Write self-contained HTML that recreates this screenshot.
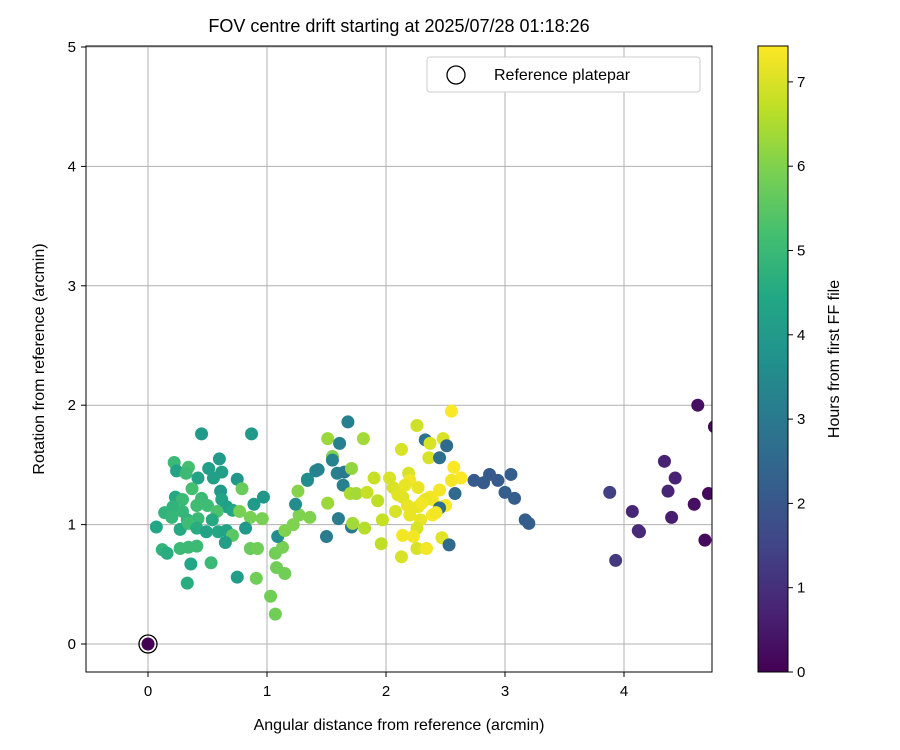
<!DOCTYPE html>
<html><head><meta charset="utf-8"><style>
body{margin:0;background:#fff;}
svg{display:block;font-family:"Liberation Sans","DejaVu Sans",sans-serif;}
</style></head><body>
<svg id="chart" width="900" height="750" xmlns="http://www.w3.org/2000/svg">
<defs>
<linearGradient id="vir" x1="0" y1="1" x2="0" y2="0">
<stop offset="0" stop-color="#440154"/><stop offset="0.1" stop-color="#482475"/><stop offset="0.2" stop-color="#414487"/><stop offset="0.3" stop-color="#355f8d"/><stop offset="0.4" stop-color="#2a788e"/><stop offset="0.5" stop-color="#21918c"/><stop offset="0.6" stop-color="#22a884"/><stop offset="0.7" stop-color="#44bf70"/><stop offset="0.8" stop-color="#7ad151"/><stop offset="0.9" stop-color="#bddf26"/><stop offset="1" stop-color="#fde725"/>
</linearGradient>
<clipPath id="plotclip"><rect x="86" y="46" width="626" height="626"/></clipPath>
</defs>
<text x="399" y="32" font-size="18" text-anchor="middle">FOV centre drift starting at 2025/07/28 01:18:26</text>
<g id="grid"></g>
<g id="points" clip-path="url(#plotclip)"></g>
<rect x="86" y="46" width="626" height="626" fill="none" stroke="#000" stroke-width="1"/>
<g id="ticks"></g>
<text x="399" y="730" font-size="16" text-anchor="middle">Angular distance from reference (arcmin)</text>
<text transform="translate(44,359) rotate(-90)" font-size="16" text-anchor="middle">Rotation from reference (arcmin)</text>
<g>
<rect x="427" y="57" width="273" height="35" rx="3" fill="#fff" stroke="#ccc"/>
<circle cx="456" cy="75" r="9" fill="none" stroke="#000" stroke-width="1.3"/>
<text x="494" y="80" font-size="16">Reference platepar</text>
</g>
<rect x="758" y="46" width="30" height="626" fill="url(#vir)" stroke="#000" stroke-width="1"/>
<g id="cbticks"></g>
<text transform="translate(839,359) rotate(-90)" font-size="16" text-anchor="middle">Hours from first FF file</text>
</svg>
<script>
const xTicks=[0,1,2,3,4];
const yTicks=[0,1,2,3,4,5];
const cTicks=[0,1,2,3,4,5,6,7];
const xs=[0,3.88,3.93,4.07,4.12,4.13,4.34,4.37,4.40,4.43,4.59,4.62,4.68,4.71,4.76,
2.74,2.82,2.87,2.94,3.0,3.05,3.08,3.17,3.20,
0.45,0.87,0.22,0.24,0.34,0.32,0.42,0.51,0.60,0.62,0.55,0.75,0.79,0.37,0.61,0.23,0.29,0.45,0.62,0.97,0.89,0.41,0.50,0.21,0.66,0.14,0.29,0.58,0.71,0.77,0.86,0.96,0.20,0.33,0.42,0.54,0.07,0.27,0.34,0.41,0.49,0.59,0.66,0.71,0.82,0.65,0.12,0.16,0.27,0.34,0.41,0.86,0.92,0.36,0.53,0.75,0.91,0.33,1.03,1.07,1.07,1.13,1.08,1.15,1.09,1.15,1.22,1.27,1.36,1.26,1.24,1.34,1.41,
1.68,1.51,1.61,1.81,1.55,1.55,1.43,1.34,1.59,1.65,1.71,1.64,1.70,1.75,1.51,1.84,1.90,1.93,1.60,1.71,1.72,1.82,1.97,1.50,1.96,2.13,2.13,2.14,2.03,2.08,
2.55,2.26,2.33,2.37,2.48,2.51,2.36,2.45,2.57,2.63,2.55,2.19,2.20,2.27,2.06,2.14,2.37,2.45,2.58,2.39,2.50,2.18,2.27,2.33,2.45,2.20,2.39,2.29,2.26,2.23,2.47,2.53,2.26,2.34,2.10,2.16,2.30,2.42];
const ys=[0,1.27,0.70,1.11,0.95,0.94,1.53,1.28,1.06,1.39,1.17,2.00,0.87,1.26,1.82,
1.37,1.35,1.42,1.37,1.27,1.42,1.22,1.04,1.01,
1.76,1.76,1.52,1.45,1.48,1.43,1.39,1.47,1.55,1.44,1.39,1.38,1.30,1.30,1.28,1.23,1.21,1.22,1.21,1.23,1.17,1.16,1.16,1.15,1.15,1.10,1.11,1.11,1.12,1.11,1.06,1.05,1.06,1.04,1.05,1.04,0.98,0.96,1.01,0.97,0.94,0.94,0.95,0.91,0.97,0.85,0.79,0.76,0.80,0.81,0.82,0.80,0.80,0.67,0.68,0.56,0.55,0.51,0.40,0.25,0.76,0.81,0.64,0.59,0.90,0.95,1.00,1.08,1.06,1.28,1.17,1.37,1.45,
1.86,1.72,1.68,1.72,1.57,1.54,1.46,1.38,1.43,1.44,1.47,1.33,1.26,1.26,1.18,1.27,1.39,1.20,1.05,0.98,1.01,0.97,1.04,0.90,0.84,1.63,0.73,0.91,1.39,1.11,
1.95,1.83,1.71,1.68,1.72,1.66,1.56,1.56,1.48,1.39,1.37,1.43,1.37,1.31,1.31,1.23,1.23,1.29,1.26,1.21,1.16,1.16,1.15,1.21,1.14,1.08,1.08,1.04,0.97,0.90,0.89,0.83,0.80,0.80,1.25,1.33,1.18,1.10];
const hours=[0,1.4,1.2,0.8,0.9,0.9,0.7,0.8,0.6,0.7,0.3,0.3,0.2,0.2,0.2,
2.1,2.1,2.1,2.1,2.2,2.2,2.2,2.2,2.2,
4.0,4.0,5.0,4.3,5.2,5.0,4.3,4.1,4.0,4.2,4.2,3.9,5.7,5.2,4.0,4.5,5.0,5.0,4.3,3.9,4.0,5.1,5.1,4.8,4.2,4.8,4.9,5.3,4.4,5.9,5.9,5.9,4.9,4.8,5.0,4.5,4.4,4.5,5.1,4.6,4.3,4.4,4.3,5.5,4.0,4.2,4.8,4.6,5.0,5.0,5.0,5.7,5.8,4.4,5.0,4.1,5.8,4.6,5.8,5.8,5.8,5.9,5.8,5.8,3.6,6.0,6.0,6.0,6.0,6.1,3.6,3.5,3.3,
3.2,6.3,3.2,6.4,6.0,3.3,3.3,3.6,3.2,3.0,6.2,3.2,6.5,6.4,6.3,6.8,6.8,6.7,3.1,3.0,6.4,6.6,6.8,3.1,6.7,7.0,7.0,7.3,7.0,7.0,
7.4,6.9,2.8,7.0,7.0,2.6,7.0,2.7,7.4,7.4,7.3,7.0,7.3,7.2,7.0,7.1,7.3,7.3,2.6,7.3,7.4,7.2,7.2,7.2,2.7,7.2,7.4,7.2,7.0,7.3,7.1,2.6,7.0,7.3,7.1,7.2,7.3,7.3];
const HMAX=7.43;
function X(v){return 148+v*119;}
function Y(v){return 644-v*119.4;}
function C(h){return 672-h*84.3;}
const stops=[[68,1,84],[72,36,117],[65,68,135],[53,95,141],[42,120,142],[33,145,140],[34,168,132],[68,191,112],[122,209,81],[189,223,38],[253,231,37]];
function vir(h){let t=Math.max(0,Math.min(1,h/HMAX))*10;let i=Math.min(9,Math.floor(t));let f=t-i;const a=stops[i],b=stops[i+1];
return 'rgb('+[0,1,2].map(k=>Math.round(a[k]+(b[k]-a[k])*f)).join(',')+')';}
const NS='http://www.w3.org/2000/svg';
function mk(tag,attrs,parent){const e=document.createElementNS(NS,tag);for(const k in attrs)e.setAttribute(k,attrs[k]);parent.appendChild(e);return e;}
const grid=document.getElementById('grid'),ticks=document.getElementById('ticks');
xTicks.forEach(v=>{
const g=mk('line',{x1:X(v),x2:X(v),y1:46,y2:672,stroke:'#b0b0b0','stroke-width':1},grid);


const t=mk('line',{x1:X(v),x2:X(v),y1:672,y2:677,stroke:'#000'},ticks);


const l=mk('text',{x:X(v),y:696,'font-size':15,'text-anchor':'middle'},ticks);l.textContent=v;


});
yTicks.forEach(v=>{
const g=mk('line',{x1:86,x2:712,y1:Y(v),y2:Y(v),stroke:'#b0b0b0','stroke-width':1},grid);


const t=mk('line',{x1:81,x2:86,y1:Y(v),y2:Y(v),stroke:'#000'},ticks);


const l=mk('text',{x:76,y:Y(v)+5,'font-size':15,'text-anchor':'end'},ticks);l.textContent=v;


});
const cb=document.getElementById('cbticks');
cTicks.forEach(v=>{
const t=mk('line',{x1:788,x2:793,y1:C(v),y2:C(v),stroke:'#000'},cb);


const l=mk('text',{x:797,y:C(v)+5,'font-size':15},cb);l.textContent=v;


});
const pts=document.getElementById('points');
for(let i=0;i<xs.length;i++){
const c=mk('circle',{cx:X(xs[i]),cy:Y(ys[i]),r:6.5,fill:vir(hours[i])},pts);


}
const ref=mk('circle',{cx:X(0),cy:Y(0),r:9,fill:'none',stroke:'#000','stroke-width':1.3},pts);


</script>
</body></html>
